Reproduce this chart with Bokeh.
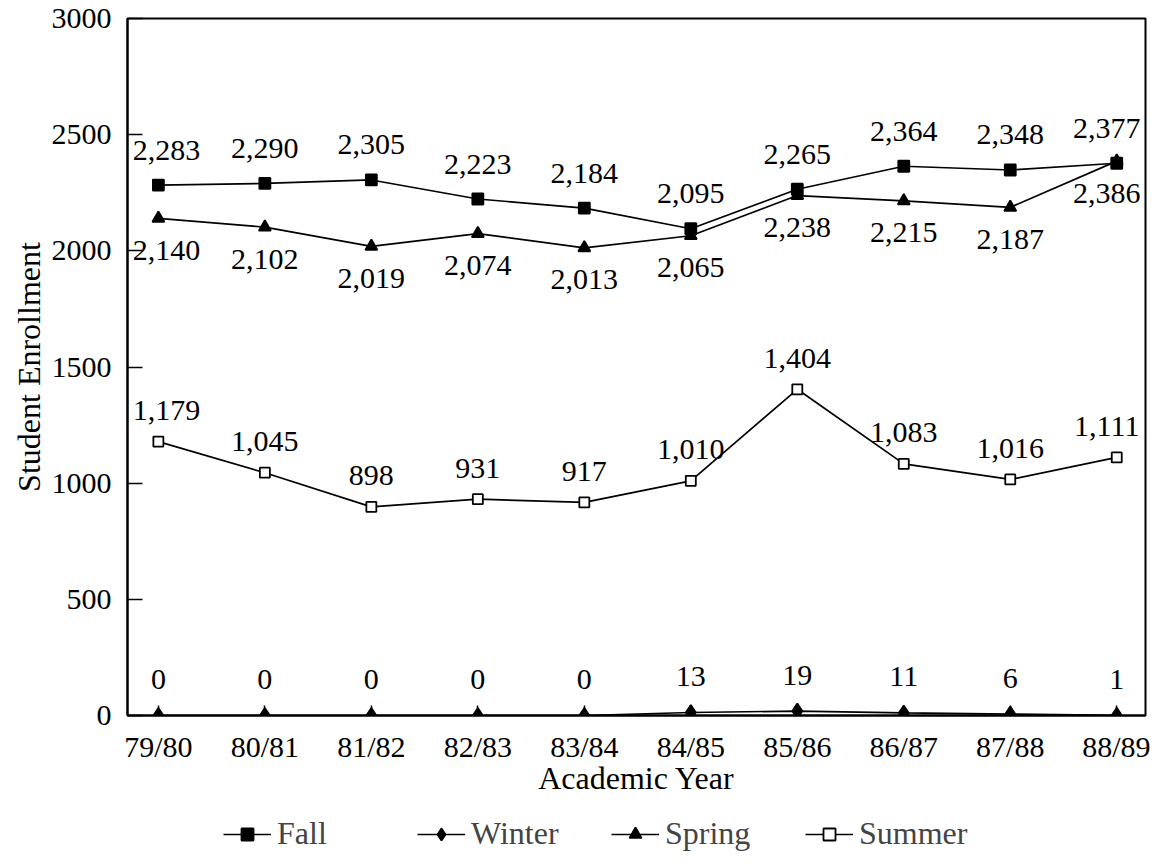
from bokeh.plotting import figure
from bokeh.layouts import column
from bokeh.models import ColumnDataSource, FixedTicker, Legend, LegendItem, Range1d
from bokeh.core.properties import value
from bokeh.embed import file_html
from bokeh.resources import INLINE

years = ["79/80", "80/81", "81/82", "82/83", "83/84", "84/85", "85/86", "86/87", "87/88", "88/89"]
fall = [2283, 2290, 2305, 2223, 2184, 2095, 2265, 2364, 2348, 2377]
winter = [0, 0, 0, 0, 0, 13, 19, 11, 6, 1]
spring = [2140, 2102, 2019, 2074, 2013, 2065, 2238, 2215, 2187, 2386]
summer = [1179, 1045, 898, 931, 917, 1010, 1404, 1083, 1016, 1111]
y_ticks = [0, 500, 1000, 1500, 2000, 2500, 3000]

# label nudges (style only, pixels)
edge_dx = [8, 0, 0, 0, 0, 0, 0, 0, 0, -10]
zero_dx = [0] * 10

FONT = "Liberation Serif"

p = figure(width=1150, height=808, output_backend="svg", toolbar_location=None,
           x_range=Range1d(-0.29, 9.27), y_range=Range1d(0, 3000),
           min_border_left=127, min_border_right=5, min_border_top=18, min_border_bottom=93)
p.background_fill_color = "white"
p.border_fill_color = "white"
p.outline_line_color = "black"
p.outline_line_width = 2
p.xgrid.visible = False
p.ygrid.visible = False

# legend strip below the chart
pl = figure(width=1150, height=44, output_backend="svg", toolbar_location=None,
            x_range=Range1d(0, 1), y_range=Range1d(-2, -1),
            x_axis_location=None, y_axis_location=None, min_border=0)
pl.outline_line_color = None
pl.xgrid.visible = False
pl.ygrid.visible = False
pl.background_fill_color = "white"
pl.border_fill_color = "white"

xs = list(range(len(years)))

def fmt(v):
    return f"{v:,}"

series = [
    ("Fall", fall, "square", "black", 11, -35, edge_dx),
    ("Winter", winter, "diamond", "black", 15, -36, zero_dx),
    ("Spring", spring, "triangle", "black", 12, 32, edge_dx),
    ("Summer", summer, "square", "white", 10, -31, edge_dx),
]

items = []
for name, vals, marker, fill, size, dy, dx in series:
    src = ColumnDataSource(dict(x=xs, y=vals, lab=[fmt(v) for v in vals], dx=dx))
    p.line("x", "y", source=src, line_color="black", line_width=1.7)
    p.scatter("x", "y", source=src, marker=marker, size=size,
              fill_color=fill, line_color="black", line_width=1.8)
    p.text("x", "y", text="lab", source=src, text_font=value(FONT),
           text_font_size="30px", text_color="black", text_align="center",
           text_baseline="middle", x_offset="dx", y_offset=dy)
    # same series in the legend strip (out of its visible range) for legend samples
    ln = pl.line("x", "y", source=src, line_color="black", line_width=1.7)
    sc = pl.scatter("x", "y", source=src, marker=marker, size=size,
                    fill_color=fill, line_color="black", line_width=1.8)
    items.append(LegendItem(label=name, renderers=[ln, sc]))

p.xaxis.ticker = FixedTicker(ticks=xs)
p.xaxis.major_label_overrides = {i: y for i, y in enumerate(years)}
p.xaxis.axis_label = "Academic Year"
p.yaxis.ticker = FixedTicker(ticks=y_ticks)
p.yaxis.axis_label = "Student Enrollment"

for ax in (p.xaxis[0], p.yaxis[0]):
    ax.axis_line_color = "black"
    ax.axis_line_width = 2
    ax.major_tick_out = 0
    ax.major_tick_line_width = 1.5
    ax.minor_tick_line_color = None
    ax.major_label_text_font = FONT
    ax.major_label_text_font_size = "30px"
    ax.major_label_text_color = "black"
    ax.axis_label_text_font = FONT
    ax.axis_label_text_font_size = "32px"
    ax.axis_label_text_font_style = "normal"
    ax.axis_label_text_color = "black"
p.xaxis.major_tick_in = 10
p.yaxis.major_tick_in = 15
p.xaxis.major_label_standoff = 14
p.yaxis.major_label_standoff = 16
p.xaxis.axis_label_standoff = -6
p.yaxis.axis_label_standoff = 2

legend = Legend(items=items, orientation="horizontal", location=(96, 0),
                glyph_width=48, glyph_height=30, label_standoff=6, label_width=130,
                spacing=10, padding=0, margin=0,
                label_text_font=FONT, label_text_font_size="32px",
                border_line_color=None, background_fill_alpha=0)
pl.add_layout(legend, "center")

layout = column(p, pl, spacing=0)
open("out.html", "w").write(file_html(layout, INLINE))
